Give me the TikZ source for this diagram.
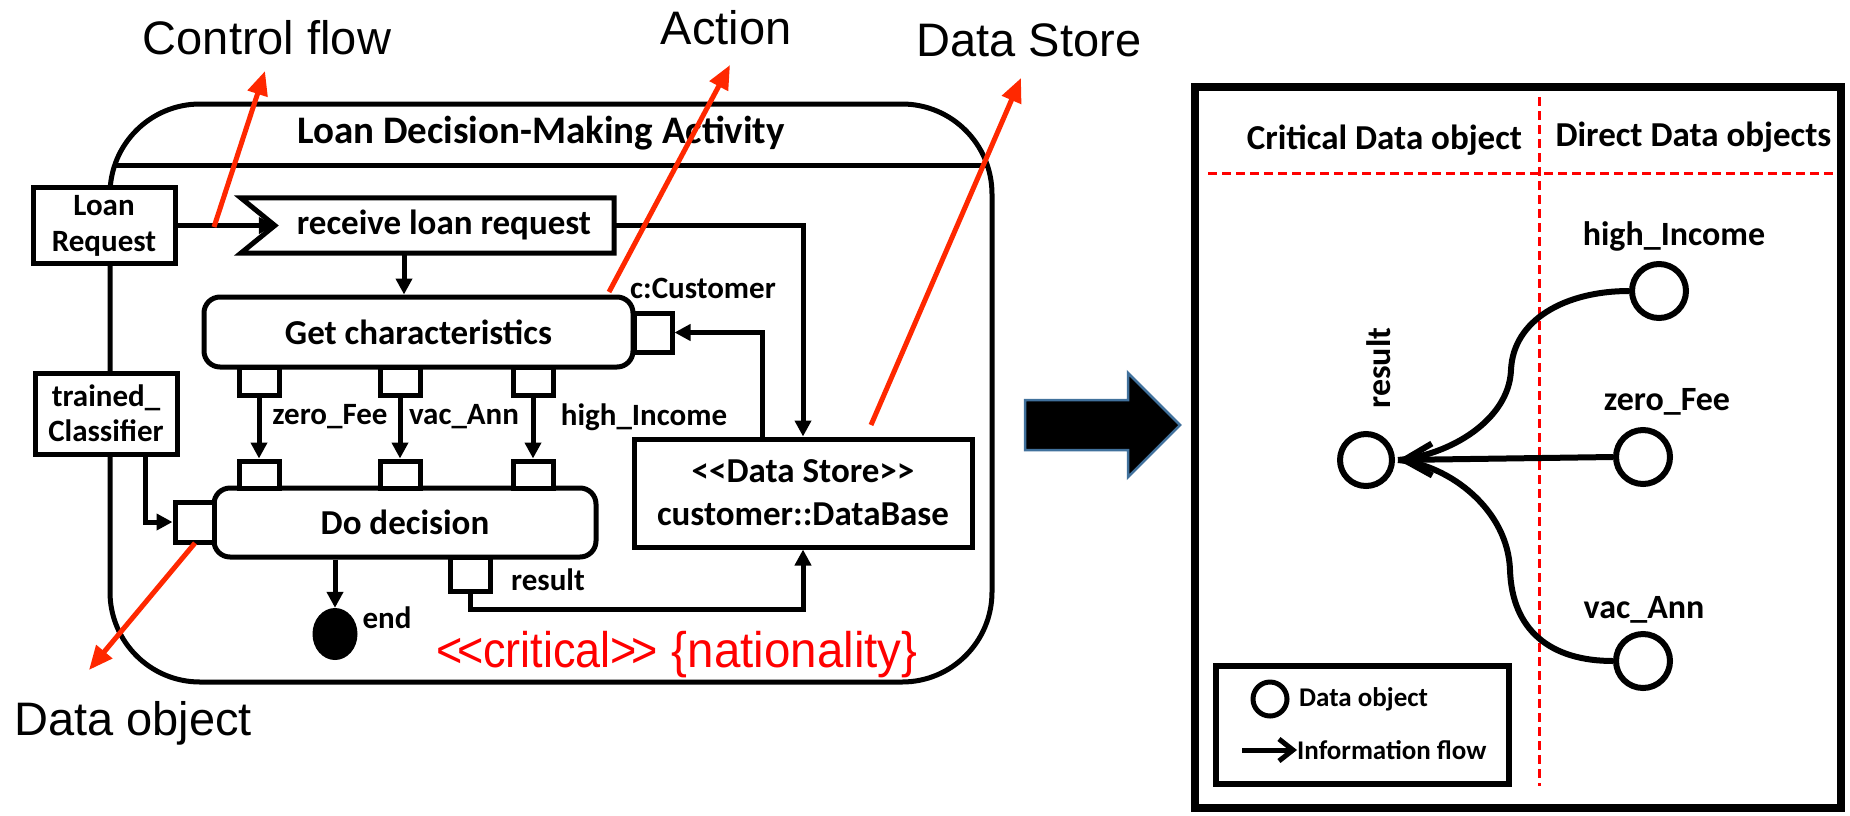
\documentclass[tikz,border=0pt]{standalone}
\usepackage{fontspec}
\setmainfont{Carlito}
\newfontfamily\arialf{Liberation Sans}
\usetikzlibrary{arrows.meta,shapes.geometric}
\definecolor{callout}{RGB}{255,40,0}
\definecolor{arrowedge}{RGB}{65,113,156}
\newcommand\setfs[2]{\fontsize{#1}{#2}\selectfont}

\tikzset{
  uml/.style={draw, line width=5, fill=white, inner sep=0},
  act/.style={uml, rounded corners=16, font=\bfseries\setfs{35}{40}},
  pin/.style={draw, line width=5, fill=white, inner sep=0},
  flow/.style={line width=5, -{Triangle[length=16,width=16]}},
  lbl/.style={font=\bfseries\setfs{31}{36}, inner sep=0},
  callarrow/.style={draw=callout, line width=5, -{Triangle[length=24,width=20]}},
  big/.style={font=\arialf\setfs{47}{50}, inner sep=0},
  dobj/.style={circle, draw, line width=6, inner sep=0},
  side/.style={font=\bfseries\setfs{34}{34}, inner sep=0},
  sep/.style={draw=red, line width=3, dash pattern=on 9 off 5},
}

\begin{document}
\begin{tikzpicture}[x=1pt,y=-1pt]
\fill[white] (0,0) rectangle (1850,815);
\useasboundingbox (0,0) rectangle (1850,815);

% ---------- activity frame ----------
\node[draw, line width=5, rounded corners=90, minimum width=882, minimum height=578, inner sep=0] (frame) at (551,393) {};
\coordinate (hdr) at (0,165);
\begin{scope}
  \clip[rounded corners=90] (110,104) rectangle (992,682);
  \draw[line width=5] (frame.west |- hdr) -- (frame.east |- hdr);
\end{scope}
\node[font=\bfseries\setfs{39}{42}] (title) at (541,133) {Loan Decision-Making Activity};

% parameter nodes on the frame border
\node[uml, minimum width=142, minimum height=76, align=center, font=\bfseries\setfs{31}{36}] (lr) at (104,225.5) {Loan\\Request};
\node[uml, minimum width=142, minimum height=81, align=center, font=\bfseries\setfs{31}{35}] (tc) at (106,413.5) {trained\_\\Classifier};

% accept event action
\node[minimum width=373, minimum height=55, inner sep=0] (recv) at (427.5,225.5) {};
\draw[line width=5] (recv.north west) -- (recv.north east) -- (recv.south east) -- (recv.south west) -- ([xshift=34]recv.west) -- cycle;
\node[font=\bfseries\setfs{35}{40}, inner sep=0] (recvtxt) at (444,225) {receive loan request};

% actions and pins
\node[act, minimum width=429, minimum height=70] (gc) at (418.5,332) {Get characteristics};
\node[pin, minimum width=38, minimum height=39] (cpin) at (653,332.5) {};
\node[pin, minimum width=40, minimum height=28] (gp1) at (259,381) {};
\node[pin, minimum width=40, minimum height=28] (gp2) at (400,381) {};
\node[pin, minimum width=40, minimum height=28] (gp3) at (533,381) {};

\node[act, minimum width=382, minimum height=69] (dd) at (405,522.5) {Do decision};
\node[pin, minimum width=40, minimum height=27] (dp1) at (259,474.5) {};
\node[pin, minimum width=40, minimum height=27] (dp2) at (400,474.5) {};
\node[pin, minimum width=40, minimum height=27] (dp3) at (533,474.5) {};
\node[pin, minimum width=39, minimum height=40] (dpin) at (194.5,522) {};
\node[pin, minimum width=40, minimum height=34] (rpin) at (470,574) {};

\node[uml, minimum width=338, minimum height=108, align=center, font=\bfseries\setfs{35}{43}] (ds) at (803,493) {<{}<Data Store>{}>\\customer::DataBase};

\node[fill=black, ellipse, minimum width=45, minimum height=52, inner sep=0] (endn) at (335,634) {};

% pin and node labels
\node[lbl] (lcust) at (703,288) {c:Customer};
\node[lbl] (lzf) at (330,417) {zero\_Fee};
\node[lbl] (lva) at (464,417) {vac\_Ann};
\node[lbl] (lhi) at (644,417) {high\_Income};
\node[lbl] (lres) at (548,580) {result};
\node[lbl] (lend) at (387,618) {end};

% control and object flows
\draw[flow] (lr.east) -- ([xshift=34]recv.west);
\draw[flow] ([xshift=-23.5]recv.south) -- ([xshift=-23.5]recv.south |- gc.north);
\draw[flow] (recv.east) -| (ds.north);
\draw[flow] ([xshift=-41]ds.north) |- (cpin.east);
\draw[flow] (gp1.south) -- (dp1.north);
\draw[flow] (gp2.south) -- (dp2.north);
\draw[flow] (gp3.south) -- (dp3.north);
\draw[flow] ([xshift=39]tc.south) |- (dpin.west);
\draw[flow] (dd.south -| endn.north) -- (endn.north);
\draw[flow] (rpin.south) -- ++(0,16) -| (ds.south);

% stereotype note
\node[anchor=base west, inner sep=0, text=red, font=\arialf\setfs{50}{50}] (crit) at (436,667)
  {\scalebox{0.9}[1]{<\kern-6pt<critical>\kern-6pt>}\ \scalebox{0.95}[1]{\{nationality\}}};

% ---------- callouts ----------
\node[big] (tcf) at (267,38) {Control flow};
\node[big] (tact) at (726,28) {Action};
\node[big] (tds) at (1029,40) {Data Store};
\node[big] (tdo) at (133,723) {Data object};
\coordinate (cf0) at (214,227);  \coordinate (cf1) at (265,71);
\coordinate (ac0) at (609,292);  \coordinate (ac1) at (730,65);
\coordinate (st0) at (871,425);  \coordinate (st1) at (1021,78);
\coordinate (do0) at (195,543);  \coordinate (do1) at (89,670);
\draw[callarrow] (cf0) -- (cf1);
\draw[callarrow] (ac0) -- (ac1);
\draw[callarrow] (st0) -- (st1);
\draw[callarrow] (do0) -- (do1);

% ---------- transformation arrow ----------
\draw[fill=black, draw=arrowedge, line width=2.5, line join=miter]
  (1025,400) -- (1128,400) -- (1128,373) -- (1180,425) -- (1128,477) -- (1128,450) -- (1025,450) -- cycle;

% ---------- information flow graph ----------
\node[draw, line width=8, minimum width=646, minimum height=721, inner sep=0] (panel) at (1518,447.5) {};
\draw[sep] (1539,97) -- (1539,786);
\draw[sep] (1208,173) -- (1837,173);
\node[side, font=\bfseries\setfs{35}{35}] (hcrit) at (1384.5,140) {Critical Data object};
\node[side, font=\bfseries\setfs{35}{35}] (hdir) at (1693.5,137) {Direct Data objects};

\node[dobj, minimum size=52] (res) at (1366,460) {};
\node[dobj, minimum size=54] (hi) at (1659,291) {};
\node[dobj, minimum size=54] (zf) at (1643,457) {};
\node[dobj, minimum size=54] (va) at (1643,661) {};
\node[side, rotate=90] (tres) at (1379,368) {result};
\node[side] (thi) at (1674,236) {high\_Income};
\node[side] (tzf) at (1667,402) {zero\_Fee};
\node[side] (tva) at (1644,610) {vac\_Ann};

\coordinate (tip) at ([xshift=3]res.east);
\draw[line width=6] (hi.west) .. controls (1565,291) and (1513,320) .. (1511,370)
  .. controls (1509,420) and (1450,455) .. (tip);
\draw[line width=6] (va.west) .. controls (1550,661) and (1512,630) .. (1510,570)
  .. controls (1508,510) and (1450,465) .. (tip);
\draw[line width=6, -{Straight Barb[length=28,width=32]}] (zf.west) -- (tip);

% legend
\node[draw, line width=6, minimum width=293, minimum height=118, inner sep=0] (legend) at (1362.5,725) {};
\node[circle, draw, line width=5, minimum size=34, inner sep=0] (lgc) at (1270,699) {};
\node[anchor=west, inner sep=0, font=\bfseries\setfs{27}{27}] (lgt1) at (1299,699) {Data object};
\node[anchor=west, inner sep=0, font=\bfseries\setfs{27}{27}] (lgt2) at (1297,750) {Information flow};
\coordinate (lga) at (1242,750);
\draw[line width=5, -{Straight Barb[length=14,width=22]}] (lga) -- (lgt2.west);
\end{tikzpicture}
\end{document}
